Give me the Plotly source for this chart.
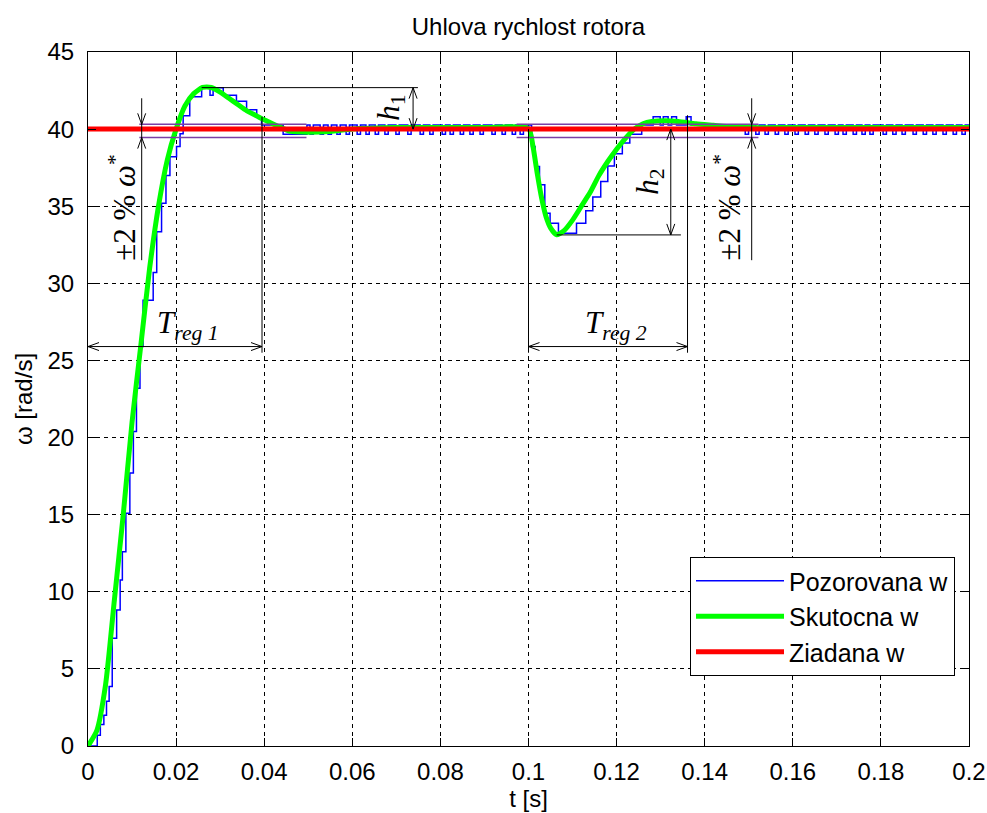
import plotly.graph_objects as go

# ---------------- data ----------------
# Skutocna w (actual speed)
green_t = [0, 0.002, 0.004, 0.006, 0.008, 0.010, 0.012, 0.014, 0.016, 0.018,
           0.020, 0.022, 0.024, 0.026, 0.028, 0.030, 0.032, 0.034, 0.036, 0.038,
           0.040, 0.043, 0.046, 0.050, 0.055, 0.060, 0.070, 0.080, 0.090, 0.100,
           0.101, 0.102, 0.103, 0.104, 0.105, 0.1064, 0.108, 0.110, 0.112, 0.114,
           0.116, 0.118, 0.120, 0.122, 0.124, 0.126, 0.128, 0.131, 0.134, 0.138,
           0.142, 0.146, 0.150, 0.160, 0.180, 0.200]
green_w = [0, 1.0, 4.0, 9.5, 15.0, 21.0, 26.0, 31.0, 35.0, 38.0,
           40.0, 41.5, 42.3, 42.7, 42.7, 42.4, 42.0, 41.6, 41.2, 40.9,
           40.6, 40.2, 39.85, 39.8, 39.85, 40.0, 40.1, 40.1, 40.1, 40.05,
           38.9, 37.1, 35.5, 34.3, 33.6, 33.15, 33.4, 34.1, 35.0, 35.9,
           37.0, 37.9, 38.7, 39.4, 40.0, 40.35, 40.5, 40.55, 40.5, 40.35,
           40.25, 40.15, 40.1, 40.1, 40.1, 40.1]

# Pozorovana w (observed speed) - stepped, transient parts
blue1_t = [0, 0.0021, 0.0028, 0.0036, 0.0042, 0.0048, 0.0055, 0.0065, 0.0073, 0.0078,
           0.0086, 0.0095, 0.0103, 0.0110, 0.0118, 0.0125, 0.0148, 0.0156, 0.0167, 0.0177,
           0.0186, 0.0201, 0.0209, 0.0216, 0.0231, 0.0258, 0.0277, 0.0284, 0.0307, 0.0337,
           0.0360, 0.0383, 0.0394, 0.0443]
blue1_w = [0, 0.7, 1.4, 2.0, 2.9, 3.85, 6.98, 8.82, 10.77, 12.6,
           15.09, 17.7, 20.4, 23.2, 25.9, 28.9, 30.7, 33.35, 35.2, 37.0,
           38.2, 38.87, 39.7, 40.86, 42.1, 42.69, 42.2, 42.69, 42.2, 41.8,
           41.25, 40.77, 40.27, 39.66]
blue2_t = [0.1007, 0.1015, 0.1025, 0.1037, 0.1049, 0.1068, 0.1109, 0.1130, 0.1146, 0.1164,
           0.1180, 0.1195, 0.1213, 0.1230, 0.1257, 0.1283, 0.1299, 0.1306, 0.1317, 0.1325,
           0.1336, 0.1358, 0.1369]
blue2_w = [38.87, 37.57, 36.4, 34.55, 33.9, 33.25, 33.9, 34.7, 35.6, 36.6,
           37.6, 38.4, 39.1, 39.66, 40.27, 40.8, 40.27, 40.8, 40.27, 40.8,
           40.27, 40.8, 40.27]
# steady state: quantised levels and one-sample dips
blue_high = 40.27
blue_low = 39.66
dip_len = 0.00075
steady1_start = 0.0497
dips1_t = [0.0504, 0.0527, 0.0545, 0.0565, 0.0586, 0.0611, 0.0631, 0.0652, 0.0674, 0.0699,
           0.0726, 0.0754, 0.0776, 0.0804, 0.0822, 0.0845, 0.0867, 0.0890, 0.0917, 0.0940,
           0.0963, 0.0981]
dips2_t = [0.1492, 0.1516, 0.1537, 0.1560, 0.1582, 0.1605, 0.1628, 0.1650, 0.1673, 0.1696,
           0.1714, 0.1737, 0.1757, 0.1775, 0.1805, 0.1827, 0.1848, 0.1873, 0.1896, 0.1918,
           0.1941, 0.1964, 0.1984]
t_end = 0.2

# Ziadana w (reference)
ref_t = [0, 0.2]
ref_w = [40, 40]

# +-2 % band (as drawn)
band_hi = 40.31
band_lo = 39.45
band1_x = [0.01165, 0.0496]
band2_x = [0.0973, 0.1522]

x_ticks = [0, 0.02, 0.04, 0.06, 0.08, 0.1, 0.12, 0.14, 0.16, 0.18, 0.2]
x_ticktext = ["0", "0.02", "0.04", "0.06", "0.08", "0.1", "0.12", "0.14", "0.16", "0.18", "0.2"]
y_ticks = [0, 5, 10, 15, 20, 25, 30, 35, 40, 45]

# ---------------- build observed step series ----------------
bx, by = list(blue1_t), list(blue1_w)
bx.append(steady1_start); by.append(blue_high)
for d in dips1_t:
    bx += [d, d + dip_len]; by += [blue_low, blue_high]
bx += blue2_t; by += blue2_w
for d in dips2_t:
    bx += [d, d + dip_len]; by += [blue_low, blue_high]
bx.append(t_end); by.append(blue_high)

# ---------------- figure ----------------
W, H = 987, 813
ML, MR, MT, MB = 88, 18, 52, 67
PW, PH = W - ML - MR, H - MT - MB
XR, YR = (0, 0.2), (0, 45)
sx = PW / (XR[1] - XR[0])   # px per data unit
sy = PH / (YR[1] - YR[0])

fig = go.Figure()
fig.add_trace(go.Scatter(x=bx, y=by, mode="lines", line=dict(color="#0000FF", width=1.5, shape="hv"),
                         name="Pozorovana w"))
fig.add_trace(go.Scatter(x=green_t, y=green_w, mode="lines",
                         line=dict(color="#00FF00", width=5, shape="spline", smoothing=0.6),
                         name="Skutocna w"))
fig.add_trace(go.Scatter(x=ref_t, y=ref_w, mode="lines", line=dict(color="#FF0000", width=5),
                         name="Ziadana w"))

shapes = []
purple = "#7A3FA6"
for bxr in (band1_x, band2_x):
    for yv in (band_hi, band_lo):
        shapes.append(dict(type="line", xref="x", yref="y", x0=bxr[0], x1=bxr[1], y0=yv, y1=yv,
                           line=dict(color=purple, width=1.5)))

def seg(x0, y0, x1, y1):
    shapes.append(dict(type="line", xref="x", yref="y", x0=x0, y0=y0, x1=x1, y1=y1,
                       line=dict(color="black", width=1)))

def head(xt, yt, ux, uy, L=11, Wd=4):
    # ux, uy: pointing direction in pixel space (y up)
    px, py = -uy, ux
    x1 = xt + (-L * ux + Wd * px) / sx
    y1 = yt + (-L * uy + Wd * py) / sy
    x2 = xt + (-L * ux - Wd * px) / sx
    y2 = yt + (-L * uy - Wd * py) / sy
    shapes.append(dict(type="path", xref="x", yref="y",
                       path=f"M {x1},{y1} L {xt},{yt} L {x2},{y2}",
                       line=dict(color="black", width=1)))

# +-2% markers
for xa in (0.01219, 0.15067):
    seg(xa, 42.0, xa, 31.5)
    head(xa, band_hi, 0, -1)
    head(xa, band_lo, 0, 1)

# Treg 1
treg_y = 25.9
seg(0, treg_y, 0.0395, treg_y)
head(0, treg_y, -1, 0)
head(0.0395, treg_y, 1, 0)
seg(0.0395, 40.8, 0.0395, 25.5)
# Treg 2
seg(0.1, treg_y, 0.1361, treg_y)
head(0.1, treg_y, -1, 0)
head(0.1361, treg_y, 1, 0)
seg(0.1, 40.0, 0.1, 25.5)
seg(0.1361, 40.9, 0.1361, 25.5)
# h1
seg(0.0258, 42.69, 0.0749, 42.69)
seg(0.0738, 42.69, 0.0738, 40.0)
head(0.0738, 42.69, 0, 1)
head(0.0738, 40.0, 0, -1)
# h2
seg(0.1064, 33.14, 0.1346, 33.14)
seg(0.1323, 40.0, 0.1323, 33.14)
head(0.1323, 40.0, 0, 1)
head(0.1323, 33.14, 0, -1)

serif = "Liberation Serif, Times New Roman, serif"
ann = []
def txt(x, y, s, size, angle=0):
    ann.append(dict(x=x, y=y, xref="x", yref="y", text=s, showarrow=False, textangle=angle,
                    font=dict(family=serif, size=size, color="black"),
                    xanchor="center", yanchor="middle"))

txt(0.0079, 34.95, "±2 % <i>ω</i><sup>*</sup>", 31, -90)
txt(0.1452, 34.95, "±2 % <i>ω</i><sup>*</sup>", 31, -90)
txt(0.0227, 27.3, "<i>T<sub>reg 1</sub></i>", 31)
txt(0.1199, 27.3, "<i>T<sub>reg 2</sub></i>", 31)
txt(0.0686, 41.4, "<i>h</i><sub>1</sub>", 31, -90)
txt(0.1274, 36.6, "<i>h</i><sub>2</sub>", 31, -90)

sans = "Liberation Sans, Arial, sans-serif"
axis_common = dict(showline=True, linecolor="black", linewidth=1, mirror="ticks",
                   ticks="inside", ticklen=8, tickcolor="black", tickwidth=1,
                   showgrid=True, gridcolor="black", gridwidth=1, griddash="4px,4px",
                   zeroline=False, automargin=False,
                   tickfont=dict(family=sans, size=24, color="black"))

fig.update_layout(
    template="none",
    width=W, height=H,
    margin=dict(l=ML, r=MR, t=MT, b=MB),
    paper_bgcolor="white", plot_bgcolor="white",
    font=dict(family=sans, color="black"),
    title=dict(text="Uhlova rychlost rotora", x=(ML + PW / 2) / W, xanchor="center",
               y=1 - 27 / H, yanchor="middle", yref="container",
               font=dict(family=sans, size=24, color="black")),
    xaxis=dict(range=list(XR), tickvals=x_ticks, ticktext=x_ticktext, ticklabelstandoff=4,
               title=dict(text="t [s]", font=dict(family=sans, size=24), standoff=6),
               **axis_common),
    yaxis=dict(range=list(YR), tickvals=y_ticks, ticklabelstandoff=8,
               title=dict(text="ω [rad/s]", font=dict(family=sans, size=24), standoff=8),
               **axis_common),
    legend=dict(x=(690 - ML) / PW, y=(746 - 557) / PH, xanchor="left", yanchor="top",
                bgcolor="white", bordercolor="black", borderwidth=1,
                font=dict(family=sans, size=25, color="black"), itemwidth=88,
                tracegroupgap=0),
    shapes=shapes,
    annotations=ann,
    showlegend=True,
)

fig.write_html("out.html", config={"displayModeBar": False},
               post_script="document.body.style.margin='0px';document.body.style.overflow='hidden';")
